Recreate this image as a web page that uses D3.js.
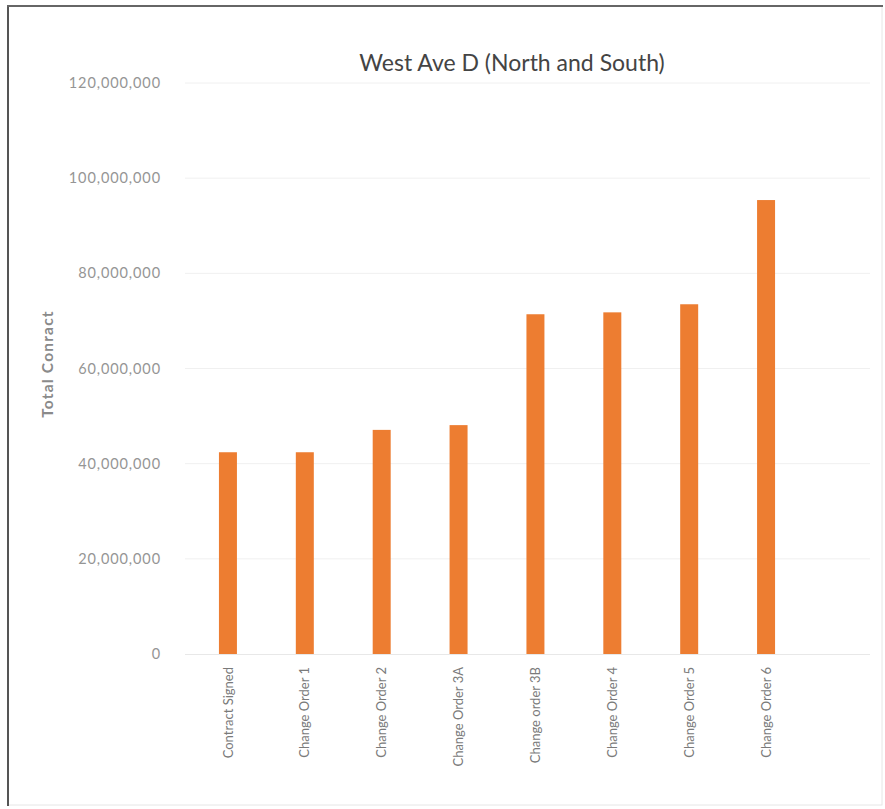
<!DOCTYPE html>
<html>
<head>
<meta charset="utf-8">
<script src="https://cdn.jsdelivr.net/npm/d3@7"></script>
<style>
  html, body { margin: 0; padding: 0; background: #fff; }
  svg { display: block; font-family: Lato, "Open Sans", sans-serif; }
</style>
</head>
<body>
<svg id="chart" width="885" height="809"></svg>
<script>
const categories = ["Contract Signed", "Change Order 1", "Change Order 2", "Change Order 3A",
  "Change order 3B", "Change Order 4", "Change Order 5", "Change Order 6"];
const totals = [42400000, 42400000, 47100000, 48100000, 71400000, 71800000, 73500000, 95400000];
const yTicks = [0, 20000000, 40000000, 60000000, 80000000, 100000000, 120000000];
const chartTitle = "West Ave D (North and South)";
const yTitle = "Total Conract";

const svg = d3.select("#chart");

// frame
svg.append("rect").attr("x", 8).attr("y", 6).attr("width", 874).attr("height", 799)
  .attr("fill", "#fff").attr("stroke", "#e6e6e6").attr("stroke-width", 1);
svg.append("line").attr("x1", 8).attr("x2", 8).attr("y1", 5).attr("y2", 806)
  .attr("stroke", "#555").attr("stroke-width", 2);
svg.append("line").attr("x1", 7).attr("x2", 883).attr("y1", 6).attr("y2", 6)
  .attr("stroke", "#666").attr("stroke-width", 2);

const y = d3.scaleLinear().domain([0, 120000000]).range([654, 83]);
const x = d3.scaleBand().domain(categories).range([189.5, 804.5])
  .paddingInner(0.766).paddingOuter(0.383);

// gridlines
svg.append("g").selectAll("line").data(yTicks.filter(d => d > 0)).join("line")
  .attr("x1", 185).attr("x2", 870)
  .attr("y1", d => y(d)).attr("y2", d => y(d))
  .attr("stroke", "#f0f0f0").attr("stroke-width", 1);

// y axis
const yAxis = svg.append("g").attr("transform", "translate(185,0)")
  .call(d3.axisLeft(y).tickValues(yTicks).tickFormat(d3.format(",")).tickSize(0).tickPadding(24));
yAxis.select(".domain").remove();
yAxis.selectAll("text").attr("fill", "#959595").attr("font-size", 14.5)
  .attr("letter-spacing", "0.9px")
  .attr("font-family", "Lato, 'Open Sans', sans-serif");

// bars
svg.append("g").selectAll("rect").data(totals).join("rect")
  .attr("x", (d, i) => x(categories[i]))
  .attr("width", x.bandwidth())
  .attr("y", d => y(d))
  .attr("height", d => y(0) - y(d))
  .attr("fill", "#ED7D31");

// baseline
svg.append("line").attr("x1", 185).attr("x2", 870).attr("y1", y(0) + 0.5).attr("y2", y(0) + 0.5)
  .attr("stroke", "#e8e8e8").attr("stroke-width", 1);

// x axis labels
const xAxis = svg.append("g").attr("transform", `translate(0,${y(0)})`)
  .call(d3.axisBottom(x).tickSize(0).tickPadding(0));
xAxis.select(".domain").remove();
xAxis.selectAll("text")
  .attr("transform", "rotate(-90)")
  .attr("text-anchor", "end")
  .attr("x", -13).attr("y", 0).attr("dy", "0.35em")
  .attr("fill", "#7a7a7a").attr("font-size", 13)
  .attr("font-family", "Lato, 'Open Sans', sans-serif");

// title
svg.append("text").attr("x", 512).attr("y", 71).attr("text-anchor", "middle")
  .attr("font-size", 23).attr("fill", "#444").text(chartTitle);

// y axis title
svg.append("text").attr("transform", "translate(53,364) rotate(-90)")
  .attr("text-anchor", "middle").attr("font-size", 15.5).attr("font-weight", "bold")
  .attr("letter-spacing", "1.2px")
  .attr("fill", "#8a8a8a").text(yTitle);
</script>
</body>
</html>
